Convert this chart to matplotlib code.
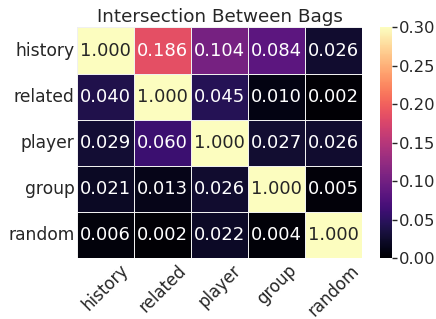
import matplotlib
matplotlib.use('Agg')
import matplotlib.pyplot as plt
import numpy as np
import seaborn as sns

bags = ['history', 'related', 'player', 'group', 'random']
row_history = [1.000, 0.186, 0.104, 0.084, 0.026]
row_related = [0.040, 1.000, 0.045, 0.010, 0.002]
row_player = [0.029, 0.060, 1.000, 0.027, 0.026]
row_group = [0.021, 0.013, 0.026, 1.000, 0.005]
row_random = [0.006, 0.002, 0.022, 0.004, 1.000]

data = np.array([row_history, row_related, row_player, row_group, row_random])

sns.set_theme(style='white')
plt.rcParams['font.family'] = ['DejaVu Sans']
plt.rcParams['text.color'] = '#262626'
plt.rcParams['xtick.color'] = '#262626'
plt.rcParams['ytick.color'] = '#262626'

fig = plt.figure(figsize=(4.36, 3.19), dpi=100)
ax = fig.add_axes([0.177, 0.19, 0.653, 0.724])
cax = fig.add_axes([0.872, 0.19, 0.027, 0.724])

sns.heatmap(data, ax=ax, cbar_ax=cax, cmap='magma', vmin=0, vmax=0.3,
            annot=True, fmt='.3f', annot_kws={'fontsize': 13},
            linewidths=0.5, linecolor='#f0f0f0',
            xticklabels=bags, yticklabels=bags)

ax.set_title('Intersection Between Bags', fontsize=13.2, pad=4)
ax.tick_params(axis='y', length=0, labelsize=12.3, pad=2)
ax.tick_params(axis='x', length=0, labelsize=12, pad=2)
plt.setp(ax.get_xticklabels(), rotation=45, ha='center')
plt.setp(ax.get_yticklabels(), rotation=0)
cax.tick_params(labelsize=11.8, length=3.5, width=1, color='#262626', right=True, pad=1.5)
cax.set_yticks([0, 0.05, 0.10, 0.15, 0.20, 0.25, 0.30])
cax.set_yticklabels(['0.00', '0.05', '0.10', '0.15', '0.20', '0.25', '0.30'])
for s in cax.spines.values():
    s.set_visible(False)

fig.savefig('out.png', dpi=100)
